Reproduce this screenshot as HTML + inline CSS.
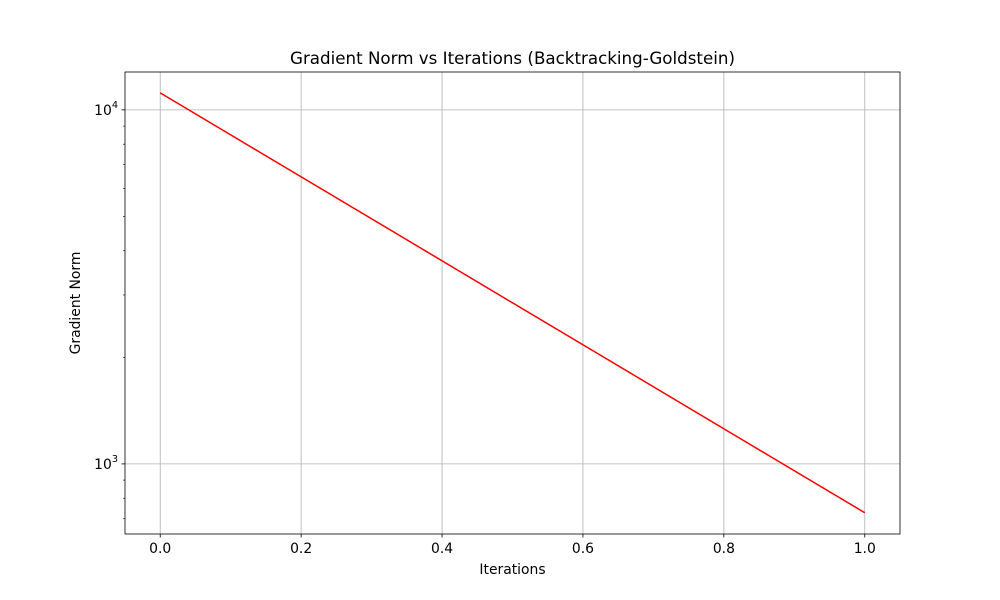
<!DOCTYPE html>
<html><head><meta charset="utf-8"><style>
body{margin:0;background:#fff}
svg{display:block;font-family:"DejaVu Sans","Liberation Sans",sans-serif}
</style></head><body>
<svg id="chart" width="1000" height="600" viewBox="0 0 1000 600">
<rect width="1000" height="600" fill="#fff"/>
<g id="grid"></g>
<g id="series"></g>
<rect x="125" y="72" width="775" height="462" fill="none" stroke="#000" stroke-width="0.8"/>
<g id="ticks"></g>
<text x="512.5" y="64" text-anchor="middle" font-size="16.7">Gradient Norm vs Iterations (Backtracking-Goldstein)</text>
<text x="512.5" y="574" text-anchor="middle" font-size="13.9">Iterations</text>
<text transform="translate(80,303) rotate(-90)" text-anchor="middle" font-size="13.9">Gradient Norm</text>
</svg>
<script>
const iterations=[0,1];
const gradNorm=[11170,728];
const xTicks=[0,0.2,0.4,0.6,0.8,1.0];
const xTickLabels=["0.0","0.2","0.4","0.6","0.8","1.0"];
const yMajor=[1000,10000];
const yMinor=[700,800,900,2000,3000,4000,5000,6000,7000,8000,9000];

const L=125,R=900,T=72,B=534;
const xMin=-0.05,xMax=1.05;
const lyMin=2.802,lyMax=4.107;
const sx=v=>L+(v-xMin)/(xMax-xMin)*(R-L);
const sy=v=>B-(Math.log10(v)-lyMin)/(lyMax-lyMin)*(B-T);
const NS="http://www.w3.org/2000/svg";
function mk(tag,attrs,parent){const e=document.createElementNS(NS,tag);for(const k in attrs)e.setAttribute(k,attrs[k]);document.getElementById(parent).appendChild(e);return e;}

xTicks.forEach((t,i)=>{
  const x=sx(t);
  const g=mk('line',{x1:x,x2:x,y1:T,y2:B,stroke:'#b0b0b0','stroke-width':0.8},'grid');
  
  
  const tk=mk('line',{x1:x,x2:x,y1:B,y2:B+3.5,stroke:'#000','stroke-width':0.8},'ticks');
  
  
  const lb=mk('text',{x:x,y:B+19,'text-anchor':'middle','font-size':13.9},'ticks');
  lb.textContent=xTickLabels[i];
  
  
});
yMajor.forEach(v=>{
  const y=sy(v);
  const g=mk('line',{x1:L,x2:R,y1:y,y2:y,stroke:'#b0b0b0','stroke-width':0.8},'grid');
  
  
  const tk=mk('line',{x1:L-3.5,x2:L,y1:y,y2:y,stroke:'#000','stroke-width':0.8},'ticks');
  
  
  const lb=mk('text',{x:L-7,y:y+5,'text-anchor':'end','font-size':13.9},'ticks');
  
  
  const exp=Math.round(Math.log10(v));
  lb.innerHTML='10<tspan dy="-7" font-size="9.7">'+exp+'</tspan>';
});
yMinor.forEach(v=>{
  const y=sy(v);
  if(y<T||y>B)return;
  const tk=mk('line',{x1:L-2,x2:L,y1:y,y2:y,stroke:'#000','stroke-width':0.6},'ticks');
  
  
});
const pts=iterations.map((t,i)=>sx(t)+','+sy(gradNorm[i])).join(' ');
const line=mk('polyline',{points:pts,fill:'none',stroke:'#ff0000','stroke-width':1.5},'series');


</script>
</body></html>
